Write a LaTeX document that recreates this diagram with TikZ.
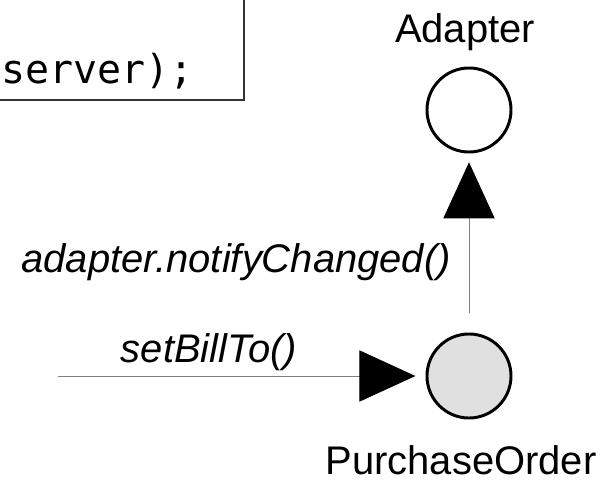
\documentclass[tikz,border=0pt]{standalone}
\usepackage{fontspec}
\setmainfont{Liberation Sans}
\setmonofont{DejaVu Sans Mono}
\usepackage{tikz}
\usetikzlibrary{arrows.meta}
\definecolor{objgray}{RGB}{224,224,224}
\definecolor{linkgray}{RGB}{128,128,128}
\definecolor{boxgray}{RGB}{51,51,51}
\newcommand{\bigfont}{\fontsize{28.4}{34}\selectfont}

\begin{document}
\begin{tikzpicture}[x=0.025cm, y=-0.025cm,
  obj/.style={circle, draw, line width=2.1pt, minimum size=2.1cm, inner sep=0pt},
  msg/.style={font=\bigfont\itshape, anchor=base, inner sep=0pt},
  lbl/.style={font=\bigfont, anchor=base, inner sep=0pt},
  link/.style={draw=linkgray, line width=0.6pt,
    -{Triangle[length=1.4cm, width=1.28cm, fill=black, color=black]}}]
  \useasboundingbox (0,0) rectangle (607,482);
  \clip (0,0) rectangle (607,482);

  % code note, cut at the edge
  \draw[boxgray, line width=1.4pt] (-20,-20) rectangle (244,100);
  \node[font=\ttfamily\bigfont, anchor=base east, inner sep=0pt] (code) at (194,83) {server);};

  % objects
  \node[obj, fill=white] (adapter) at (469,110) {};
  \node[lbl] (adapterlbl) at (465,42) {Adapter};
  \node[obj, fill=objgray] (po) at (469,376) {};
  \node[lbl] (polbl) at (461,474) {PurchaseOrder};

  % messages
  \coordinate (start) at (58,376);
  \draw[link, shorten >=12\pgflinewidth] (start) -- (po);
  \node[msg] (setbill) at (209,362) {setBillTo()};
  \draw[link, shorten <=0.48cm, shorten >=0.22cm] (po) -- (adapter);
  \node[msg, anchor=base east] (notify) at (451,272) {adapter.notifyChanged()};
\end{tikzpicture}
\end{document}
